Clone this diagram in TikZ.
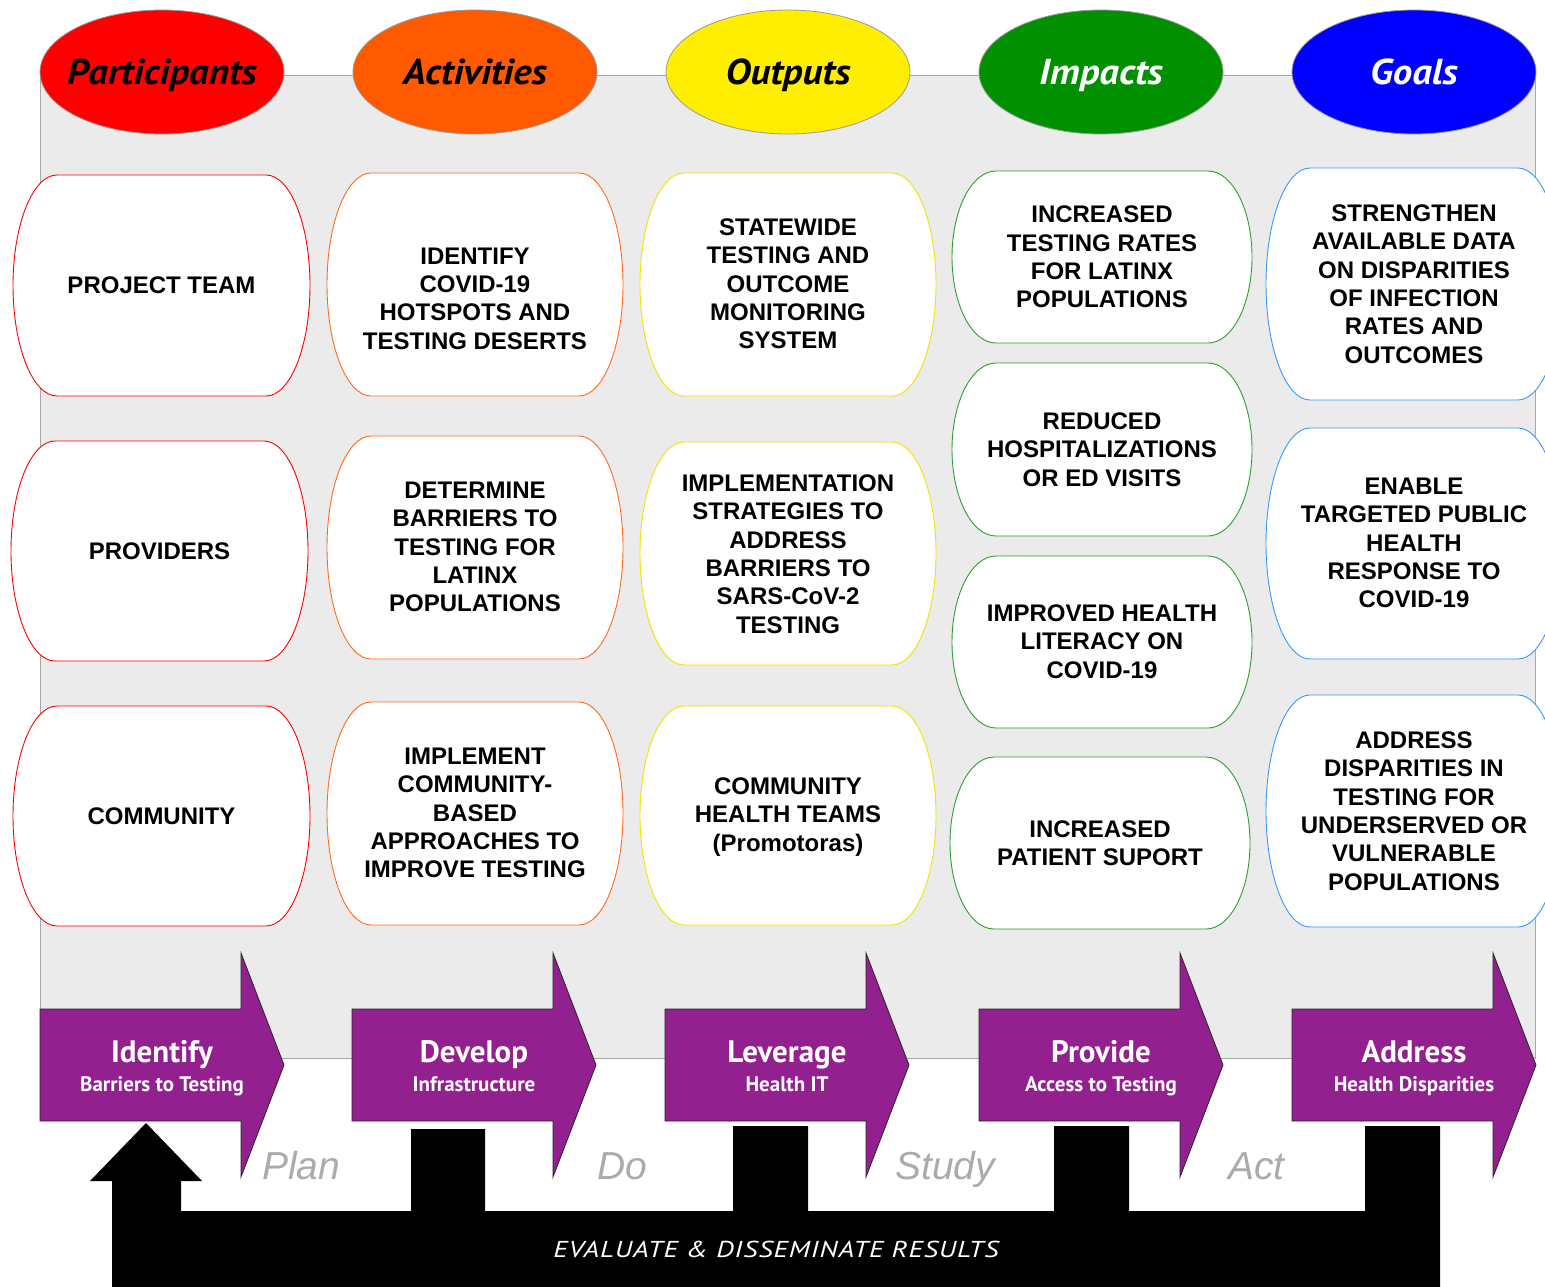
\documentclass[tikz,border=0pt]{standalone}
\usepackage{fontspec}
\setmainfont{Liberation Sans}
\newfontfamily\ptsans{PT Sans}
\newfontfamily\ptwide[FakeStretch=1.08]{PT Sans}
\newfontfamily\evalfont[FakeStretch=1.22, LetterSpace=4]{PT Sans}
\usetikzlibrary{shapes.geometric}
\definecolor{panelgray}{HTML}{EBEBEB}
\definecolor{panelline}{HTML}{A8A8A8}
\definecolor{cred}{HTML}{FF0000}
\definecolor{corange}{HTML}{FF5A00}
\definecolor{cyellow}{HTML}{FFEE00}
\definecolor{cgreen}{HTML}{009000}
\definecolor{cblue}{HTML}{0000FF}
\definecolor{borange}{HTML}{FF6A1A}
\definecolor{byellow}{HTML}{F2E200}
\definecolor{bgreen}{HTML}{2E9E2E}
\definecolor{bblue}{HTML}{3399FF}
\definecolor{purp}{HTML}{92208F}
\definecolor{pdsa}{HTML}{ABABAB}
\newcommand\lmbox[8]{%
  \draw[#6, fill=white, line width=0.9pt] ({#2+44},#3) -- ({#4-44},#3)
    arc[start angle=-90,end angle=90,x radius=44,y radius={(#5-#3)/2}]
    -- ({#2+44},#5)
    arc[start angle=90,end angle=270,x radius=44,y radius={(#5-#3)/2}] -- cycle;
  \node[boxtxt] (#1) at ({(#2+#4)/2},#7) {#8};
}
\newcommand\parrow[4]{%
  \draw[fill=purp, draw=black!85, line width=0.8pt] (#2,1009) -- ({#2+201},1009) -- ({#2+201},953)
    -- ({#2+244},1065) -- ({#2+201},1177) -- ({#2+201},1121) -- (#2,1121) -- cycle;
  \node[ptitle] (#1) at ({#2+122},1062) {#3};
  \node[psub] (#1s) at ({#2+122},1091) {#4};
}
\newcommand\hellipse[5]{%
  \node[hell, fill=#3] (#1) at (#2,72) {};
  \node[htxt, text=#4] (#1t) at (#2,84) {#5};
}
\begin{document}
\begin{tikzpicture}[x=1pt,y=-1pt,
  boxtxt/.style={font=\fontsize{24}{28.3}\selectfont\bfseries, align=center, inner sep=0pt},
  ptitle/.style={font=\ptsans\fontsize{31}{34}\selectfont\bfseries, text=white, anchor=base, inner sep=0pt},
  psub/.style={font=\ptsans\fontsize{21}{24}\selectfont\bfseries, text=white, anchor=base, inner sep=0pt},
  hell/.style={ellipse, draw=black!40, line width=0.8pt, minimum width=244pt, minimum height=124pt, inner sep=0pt},
  htxt/.style={font=\ptwide\fontsize{36}{40}\selectfont\bfseries\itshape, anchor=base, inner sep=0pt},
  pdsatxt/.style={font=\fontsize{39}{42}\selectfont\itshape, text=pdsa, anchor=base west, inner sep=0pt}]
\useasboundingbox (0,0) rectangle (1545,1286);
\clip (0,0) rectangle (1545,1286);
\fill[white] (0,0) rectangle (1545,1286);
% panel
\draw[draw=panelline, fill=panelgray, line width=1pt] (40,75) rectangle (1535,1058);
% Participants
\lmbox{p1}{13}{175}{310}{396}{cred}{285}{PROJECT TEAM}
\lmbox{p2}{11}{441}{308}{661}{cred}{551}{PROVIDERS}
\lmbox{p3}{13}{706}{310}{926}{cred}{816}{COMMUNITY}
% Activities
\lmbox{a1}{327}{173}{623}{396}{borange}{298.5}{IDENTIFY\\COVID-19\\HOTSPOTS AND\\TESTING DESERTS}
\lmbox{a2}{327}{436}{623}{659}{borange}{547}{DETERMINE\\BARRIERS TO\\TESTING FOR\\LATINX\\POPULATIONS}
\lmbox{a3}{327}{702}{623}{925}{borange}{813}{IMPLEMENT\\COMMUNITY-\\BASED\\APPROACHES TO\\IMPROVE TESTING}
% Outputs
\lmbox{o1}{640}{173}{936}{396}{byellow}{284}{STATEWIDE\\TESTING AND\\OUTCOME\\MONITORING\\SYSTEM}
\lmbox{o2}{640}{442}{936}{665}{byellow}{554}{IMPLEMENTATION\\STRATEGIES TO\\ADDRESS\\BARRIERS TO\\SARS-CoV-2\\TESTING}
\lmbox{o3}{640}{706}{936}{925}{byellow}{817}{COMMUNITY\\HEALTH TEAMS\\(Promotoras)}
% Impacts
\lmbox{i1}{952}{171}{1252}{343}{bgreen}{257}{INCREASED\\TESTING RATES\\FOR LATINX\\POPULATIONS}
\lmbox{i2}{952}{363}{1252}{536}{bgreen}{449.5}{REDUCED\\HOSPITALIZATIONS\\OR ED VISITS}
\lmbox{i3}{952}{556}{1252}{728}{bgreen}{641.5}{IMPROVED HEALTH\\LITERACY ON\\COVID-19}
\lmbox{i4}{950}{757}{1250}{929}{bgreen}{843}{INCREASED\\PATIENT SUPORT}
% Goals
\lmbox{g1}{1266}{168}{1562}{400}{bblue}{284}{STRENGTHEN\\AVAILABLE DATA\\ON DISPARITIES\\OF INFECTION\\RATES AND\\OUTCOMES}
\lmbox{g2}{1266}{428}{1562}{659}{bblue}{543}{ENABLE\\TARGETED PUBLIC\\HEALTH\\RESPONSE TO\\COVID-19}
\lmbox{g3}{1266}{695}{1562}{927}{bblue}{811}{ADDRESS\\DISPARITIES IN\\TESTING FOR\\UNDERSERVED OR\\VULNERABLE\\POPULATIONS}
% header ellipses
\hellipse{hp}{162}{cred}{black}{Participants}
\hellipse{ha}{475}{corange}{black}{Activities}
\hellipse{ho}{788}{cyellow}{black}{Outputs}
\hellipse{hi}{1101}{cgreen}{white}{Impacts}
\hellipse{hg}{1414}{cblue}{white}{Goals}
% purple arrows
\parrow{s1}{40}{Identify}{Barriers to Testing}
\parrow{s2}{352}{Develop}{Infrastructure}
\parrow{s3}{665}{Leverage}{Health IT}
\parrow{s4}{979}{Provide}{Access to Testing}
\parrow{s5}{1292}{Address}{Health Disparities}
% PDSA labels
\node[pdsatxt] (plan) at (262,1179) {Plan};
\node[pdsatxt] (do) at (597,1179) {Do};
\node[pdsatxt] (study) at (895,1179) {Study};
\node[pdsatxt] (act) at (1228,1179) {Act};
% evaluate bar
\fill[black] (112,1290) -- (112,1181) -- (90,1181) -- (146,1123) -- (202,1181) -- (181,1181)
  -- (181,1211) -- (411,1211) -- (411,1129) -- (485,1129) -- (485,1211)
  -- (733,1211) -- (733,1126) -- (808,1126) -- (808,1211)
  -- (1054,1211) -- (1054,1126) -- (1129,1126) -- (1129,1211)
  -- (1365,1211) -- (1365,1126) -- (1440,1126) -- (1440,1290) -- cycle;
\node[font=\evalfont\fontsize{23}{26}\selectfont\itshape, text=white, anchor=base, inner sep=0pt] (evalr) at (776,1257) {EVALUATE \& DISSEMINATE RESULTS};
\end{tikzpicture}
\end{document}
